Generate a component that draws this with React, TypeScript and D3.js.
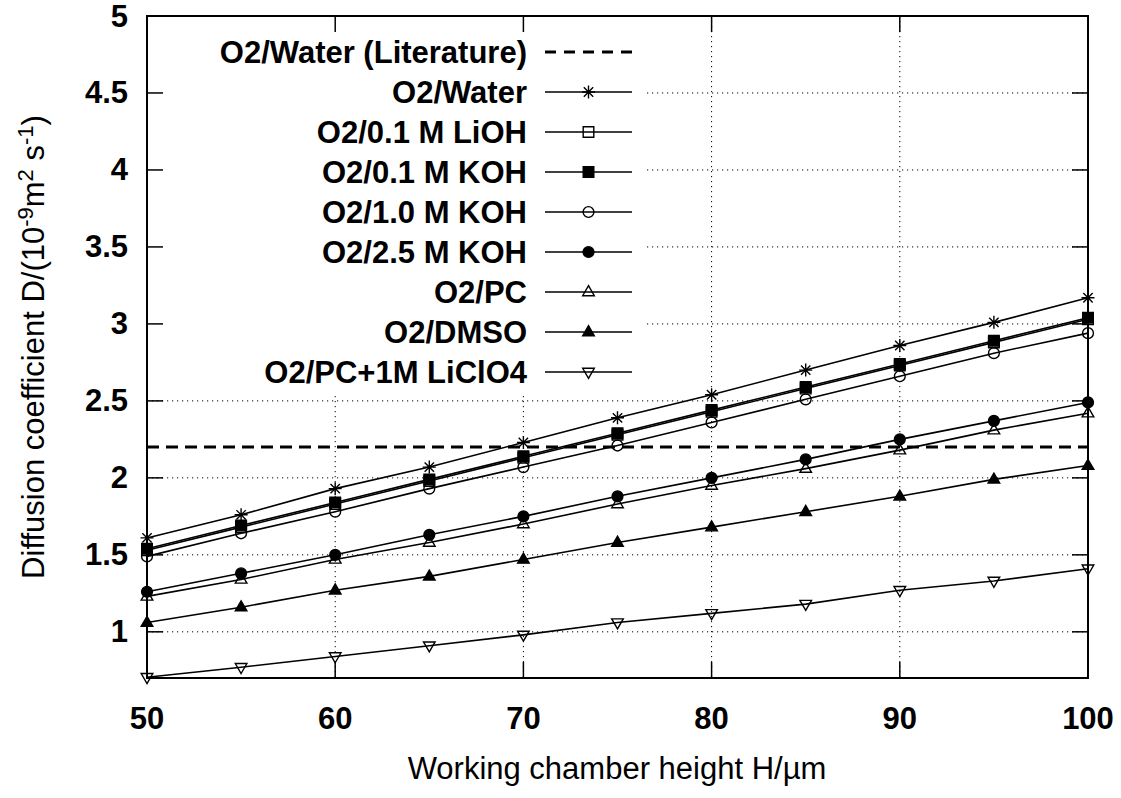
import React from "react";
import * as d3 from "d3";

// chamber heights (µm) and diffusion coefficients (1e-9 m^2/s)
const heights = [50, 55, 60, 65, 70, 75, 80, 85, 90, 95, 100];
const literatureWater = 2.2;
const water = [1.61, 1.76, 1.93, 2.07, 2.23, 2.39, 2.54, 2.7, 2.86, 3.01, 3.17];
const lioh01 = [1.53, 1.68, 1.83, 1.98, 2.13, 2.28, 2.43, 2.58, 2.73, 2.88, 3.03];
const koh01 = [1.54, 1.69, 1.84, 1.99, 2.14, 2.29, 2.44, 2.59, 2.74, 2.89, 3.04];
const koh10 = [1.49, 1.64, 1.78, 1.93, 2.07, 2.21, 2.36, 2.51, 2.66, 2.81, 2.94];
const koh25 = [1.26, 1.38, 1.5, 1.63, 1.75, 1.88, 2.0, 2.12, 2.25, 2.37, 2.49];
const pc = [1.23, 1.34, 1.47, 1.58, 1.7, 1.83, 1.95, 2.06, 2.18, 2.31, 2.42];
const dmso = [1.06, 1.16, 1.27, 1.36, 1.47, 1.58, 1.68, 1.78, 1.88, 1.99, 2.08];
const pcLiClO4 = [0.705, 0.77, 0.84, 0.91, 0.98, 1.06, 1.12, 1.18, 1.27, 1.33, 1.41];

const xTicks = [50, 60, 70, 80, 90, 100];
const yTicks = [1, 1.5, 2, 2.5, 3, 3.5, 4, 4.5, 5];

type Marker = "star" | "openSquare" | "square" | "openCircle" | "circle" | "openTriangle" | "triangle" | "openTriangleDown";

const series: { name: string; values: number[]; marker: Marker }[] = [
  { name: "O2/Water", values: water, marker: "star" },
  { name: "O2/0.1 M LiOH", values: lioh01, marker: "openSquare" },
  { name: "O2/0.1 M KOH", values: koh01, marker: "square" },
  { name: "O2/1.0 M KOH", values: koh10, marker: "openCircle" },
  { name: "O2/2.5 M KOH", values: koh25, marker: "circle" },
  { name: "O2/PC", values: pc, marker: "openTriangle" },
  { name: "O2/DMSO", values: dmso, marker: "triangle" },
  { name: "O2/PC+1M LiClO4", values: pcLiClO4, marker: "openTriangleDown" },
];

const W = 1121;
const H = 798;
const m = { left: 147, right: 1088, top: 16, bottom: 678 };
const font = "'Liberation Sans', Arial, Helvetica, sans-serif";
const fs = 31;

function markerPath(t: Marker): string {
  const s = 6.5;
  const d = s * 0.72;
  switch (t) {
    case "star":
      return `M${-s},0H${s}M0,${-s}V${s}M${-d},${-d}L${d},${d}M${-d},${d}L${d},${-d}`;
    case "square":
    case "openSquare":
      return "M-5.3,-5.3H5.3V5.3H-5.3Z";
    case "circle":
    case "openCircle":
      return "M5.4,0A5.4,5.4 0 1 1 -5.4,0A5.4,5.4 0 1 1 5.4,0Z";
    case "triangle":
    case "openTriangle":
      return "M0,-6.3L5.8,3.7H-5.8Z";
    case "openTriangleDown":
      return "M0,6.3L5.8,-3.7H-5.8Z";
  }
}

function MarkerShape({ t, x, y }: { t: Marker; x: number; y: number }) {
  const open = t.startsWith("open") || t === "star";
  return (
    <path
      d={markerPath(t)}
      transform={`translate(${x},${y})`}
      fill={open ? "none" : "#000"}
      stroke="#000"
      strokeWidth={1.4}
    />
  );
}

export default function App() {
  const x = d3.scaleLinear().domain([50, 100]).range([m.left, m.right]);
  const y = d3.scaleLinear().domain([0.7, 5]).range([m.bottom, m.top]);
  const lineGen = d3
    .line<number>()
    .x((_, i) => x(heights[i]))
    .y((v) => y(v));

  const tickLen = 16;
  const legendRight = 527;
  const sampleX0 = 545;
  const sampleX1 = 632;
  const rowY = (i: number) => 52 + i * 40;

  return (
    <svg width={W} height={H} style={{ position: "absolute", left: 0, top: 0, background: "#fff" }}>
      <rect width={W} height={H} fill="#fff" />
      {/* grid */}
      <g stroke="#000" strokeWidth={1} strokeDasharray="1.2,3.8">
        {xTicks.slice(1, -1).map((t) => (
          <line key={"gx" + t} x1={x(t)} x2={x(t)} y1={m.top} y2={m.bottom} />
        ))}
        {yTicks.filter((t) => t < 5).map((t) => (
          <line key={"gy" + t} x1={m.left} x2={m.right} y1={y(t)} y2={y(t)} />
        ))}
      </g>
      {/* opaque key box */}
      <rect x={m.left + 1} y={m.top + 1} width={645 - m.left} height={392 - m.top} fill="#fff" />
      {/* ticks */}
      <g stroke="#000" strokeWidth={1.5}>
        {xTicks.map((t) => (
          <g key={"tx" + t}>
            <line x1={x(t)} x2={x(t)} y1={m.bottom} y2={m.bottom - tickLen} />
            <line x1={x(t)} x2={x(t)} y1={m.top} y2={m.top + tickLen} />
          </g>
        ))}
        {yTicks.map((t) => (
          <g key={"ty" + t}>
            <line x1={m.left} x2={m.left + tickLen} y1={y(t)} y2={y(t)} />
            <line x1={m.right} x2={m.right - tickLen} y1={y(t)} y2={y(t)} />
          </g>
        ))}
      </g>
      {/* literature line */}
      <line
        x1={m.left}
        x2={m.right}
        y1={y(literatureWater)}
        y2={y(literatureWater)}
        stroke="#000"
        strokeWidth={3}
        strokeDasharray="12,7"
      />
      {/* series */}
      {series.map((s) => (
        <g key={s.name}>
          <path d={lineGen(s.values) || ""} fill="none" stroke="#000" strokeWidth={1.6} />
          {s.values.map((v, i) => (
            <MarkerShape key={i} t={s.marker} x={x(heights[i])} y={y(v)} />
          ))}
        </g>
      ))}
      {/* border */}
      <rect
        x={m.left}
        y={m.top}
        width={m.right - m.left}
        height={m.bottom - m.top}
        fill="none"
        stroke="#000"
        strokeWidth={2}
      />
      {/* tick labels */}
      <g fontFamily={font} fontWeight="bold" fontSize={fs} fill="#000">
        {xTicks.map((t) => (
          <text key={"lx" + t} x={x(t)} y={729} textAnchor="middle">
            {t}
          </text>
        ))}
        {yTicks.map((t) => (
          <text key={"ly" + t} x={128} y={y(t)} textAnchor="end" dominantBaseline="central">
            {t}
          </text>
        ))}
      </g>
      {/* axis titles */}
      <text x={617} y={779} textAnchor="middle" fontFamily={font} fontSize={fs}>
        Working chamber height H/µm
      </text>
      <text
        transform={`translate(44,${(m.top + m.bottom) / 2}) rotate(-90)`}
        textAnchor="middle"
        fontFamily={font}
        fontSize={fs}
      >
        Diffusion coefficient D/(10
        <tspan dy={-11} fontSize={22}>-9</tspan>
        <tspan dy={11}>m</tspan>
        <tspan dy={-11} fontSize={22}>2</tspan>
        <tspan dy={11}> s</tspan>
        <tspan dy={-11} fontSize={22}>-1</tspan>
        <tspan dy={11}>)</tspan>
      </text>
      {/* legend */}
      <g fontFamily={font} fontWeight="bold" fontSize={fs}>
        <text x={legendRight} y={rowY(0)} textAnchor="end" dominantBaseline="central">
          O2/Water (Literature)
        </text>
        <line
          x1={sampleX0}
          x2={sampleX1}
          y1={rowY(0)}
          y2={rowY(0)}
          stroke="#000"
          strokeWidth={3}
          strokeDasharray="11,8"
        />
        {series.map((s, i) => (
          <g key={"lg" + s.name}>
            <text x={legendRight} y={rowY(i + 1)} textAnchor="end" dominantBaseline="central">
              {s.name}
            </text>
            <line x1={sampleX0} x2={sampleX1} y1={rowY(i + 1)} y2={rowY(i + 1)} stroke="#000" strokeWidth={1.6} />
            <MarkerShape t={s.marker} x={(sampleX0 + sampleX1) / 2} y={rowY(i + 1)} />
          </g>
        ))}
      </g>
    </svg>
  );
}
